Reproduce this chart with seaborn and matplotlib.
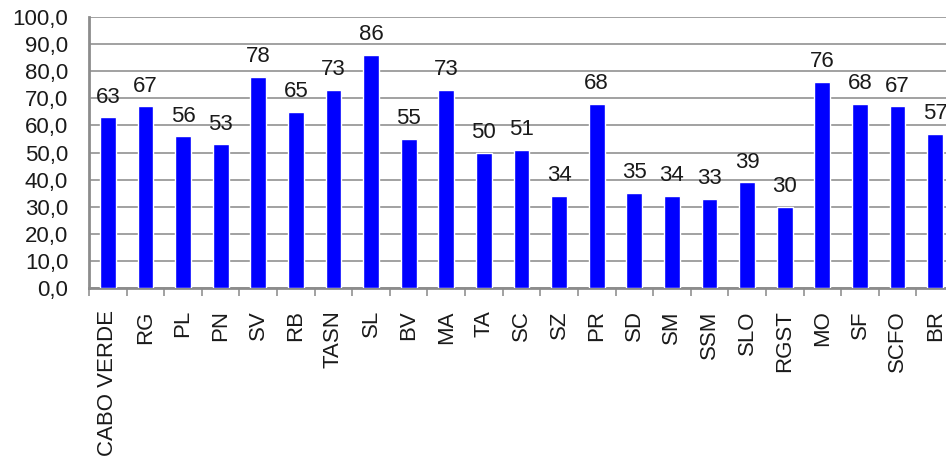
import pandas as pd
import seaborn as sns
import matplotlib.pyplot as plt
from matplotlib.ticker import FixedLocator, FuncFormatter

# data
regions = ["CABO VERDE", "RG", "PL", "PN", "SV", "RB", "TASN", "SL", "BV", "MA",
           "TA", "SC", "SZ", "PR", "SD", "SM", "SSM", "SLO", "RGST", "MO",
           "SF", "SCFO", "BR"]
values = [63, 67, 56, 53, 78, 65, 73, 86, 55, 73,
          50, 51, 34, 68, 35, 34, 33, 39, 30, 76,
          68, 67, 57]
y_ticks = [0, 10, 20, 30, 40, 50, 60, 70, 80, 90, 100]

# esthetics
sns.set_style("white")
plt.rcParams["font.family"] = ["Liberation Sans", "DejaVu Sans"]
font_size = 16
bar_color = "#0000FF"
grid_color = "#9a9a9a"
text_color = "#1a1a1a"

df = pd.DataFrame({"Region": regions, "Value": values})

fig = plt.figure(figsize=(9.46, 4.63), dpi=100)
# plot area runs a bit past the right edge, like the cropped original
ax = fig.add_axes([89 / 946, 175 / 463, 865 / 946, 271 / 463])

sns.barplot(data=df, x="Region", y="Value", color=bar_color, width=0.42,
            saturation=1, ax=ax, zorder=3)

ax.bar_label(ax.containers[0], labels=[str(v) for v in values],
             padding=7, fontsize=font_size, color=text_color)

ax.set_ylim(0, 100)
ax.set_xlim(-0.5, len(regions) - 0.5)
ax.set_xlabel("")
ax.set_ylabel("")

ax.yaxis.set_major_locator(FixedLocator(y_ticks))
ax.yaxis.set_major_formatter(FuncFormatter(lambda v, _: f"{v:.1f}".replace(".", ",")))
ax.grid(axis="y", color=grid_color, linewidth=1.3, zorder=0)
ax.grid(axis="x", visible=False)

# category labels at bar centres, tick marks on the boundaries
ax.set_xticks(range(len(regions)))
ax.set_xticklabels(regions, rotation=90)
ax.set_xticks([i - 0.5 for i in range(len(regions) + 1)], minor=True)
ax.tick_params(axis="x", which="major", length=0, pad=16, labelsize=font_size, colors=text_color)
ax.tick_params(axis="x", which="minor", length=6, width=1.3, color=grid_color, bottom=True)
ax.tick_params(axis="y", length=0, pad=15, labelsize=font_size, colors=text_color)

for side in ["top", "right"]:
    ax.spines[side].set_visible(False)
for side in ["left", "bottom"]:
    ax.spines[side].set_color("#8c8c8c")
    ax.spines[side].set_linewidth(2)

fig.savefig("out.png", dpi=100)
plt.close()
